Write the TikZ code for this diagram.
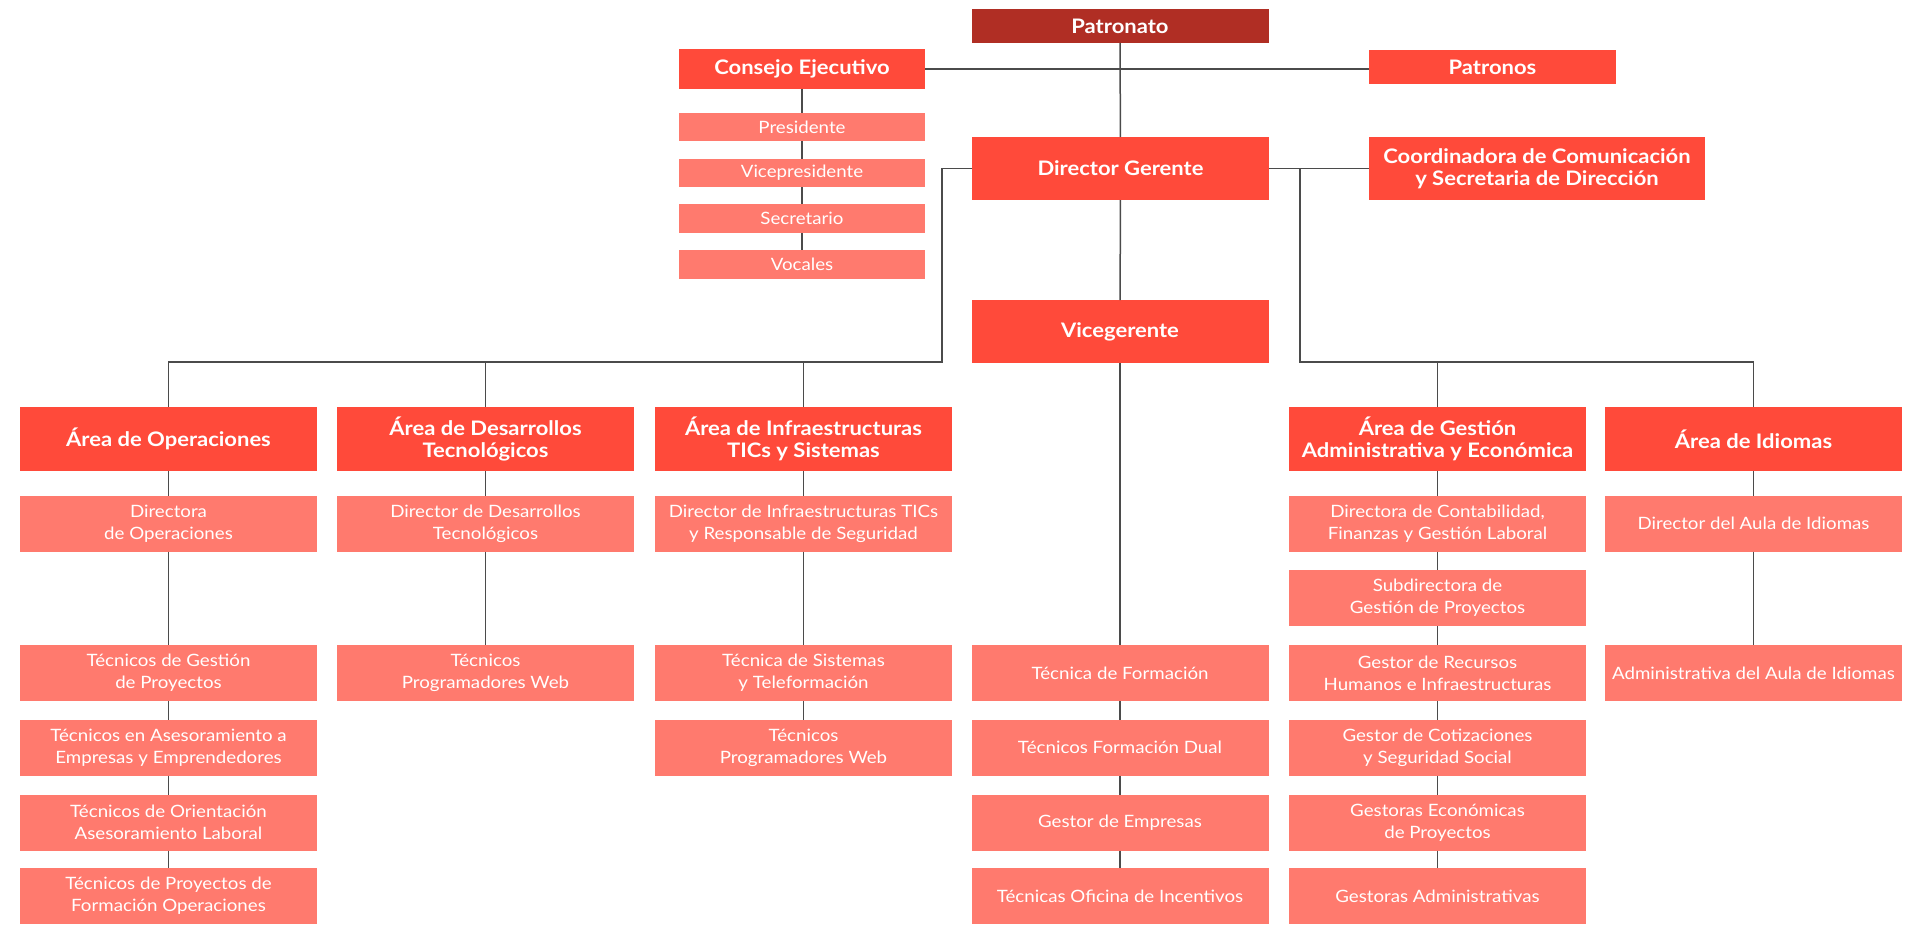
\documentclass[tikz,border=0pt]{standalone}
\usepackage{fontspec}
\setmainfont{Lato}[FakeStretch=1.1]
\begin{document}
\begin{tikzpicture}[x=1pt,y=-1pt,
  base/.style={inner sep=0pt,outer sep=0pt,text=white,align=center,anchor=center},
  topbox/.style={base,fill=toprd,font=\fontsize{20}{21.7}\selectfont\bfseries},
  mainbox/.style={base,fill=mainrd,font=\fontsize{20}{21.7}\selectfont\bfseries},
  subbox/.style={base,fill=subrd,font=\fontsize{17}{21.7}\selectfont},
  colw/.style={minimum width=297,minimum height=56},
  areaw/.style={minimum width=297,minimum height=64},
  memw/.style={minimum width=246,minimum height=28.5},
  conn/.style={draw=lnc,line width=1.5pt}]
\definecolor{toprd}{RGB}{176,46,36}
\definecolor{mainrd}{RGB}{255,74,58}
\definecolor{subrd}{RGB}{255,122,110}
\definecolor{lnc}{RGB}{75,75,75}
\useasboundingbox[fill=white] (0,0) rectangle (1920,934);

% top
\node[topbox,minimum width=297,minimum height=34] (pat) at (1120,26) {Patronato};
\node[mainbox,minimum width=246,minimum height=40] (cons) at (802,69) {Consejo Ejecutivo};
\node[mainbox,minimum width=247,minimum height=34] (patr) at (1492.5,67.5) {Patronos};
\node[subbox,memw] (pres) at (802,127) {Presidente};
\node[subbox,memw] (vice) at (802,173) {Vicepresidente};
\node[subbox,memw] (secr) at (802,218.5) {Secretario};
\node[subbox,memw] (voc) at (802,264.5) {Vocales};
\node[mainbox,minimum width=297,minimum height=63] (dg) at (1120.5,168.5) {Director Gerente};
\node[mainbox,minimum width=336,minimum height=63] (coord) at (1537,168.5) {Coordinadora de Comunicación\\y Secretaria de Dirección};
\node[mainbox,minimum width=297,minimum height=63] (vg) at (1120,331.5) {Vicegerente};

% areas
\node[mainbox,areaw] (a1) at (168.5,439) {Área de Operaciones};
\node[mainbox,areaw] (a2) at (485.5,439) {Área de Desarrollos\\Tecnológicos};
\node[mainbox,areaw] (a3) at (803.5,439) {Área de Infraestructuras\\TICs y Sistemas};
\node[mainbox,areaw] (a5) at (1437.5,439) {Área de Gestión\\Administrativa y Económica};
\node[mainbox,areaw] (a6) at (1753.5,439) {Área de Idiomas};

% column 1
\node[subbox,colw] (c1a) at (168.5,523.5) {Directora\\de Operaciones};
\node[subbox,colw] (c1b) at (168.5,673) {Técnicos de Gestión\\de Proyectos};
\node[subbox,colw] (c1c) at (168.5,747.5) {Técnicos en Asesoramiento a\\Empresas y Emprendedores};
\node[subbox,colw] (c1d) at (168.5,822.5) {Técnicos de Orientación\\Asesoramiento Laboral};
\node[subbox,colw] (c1e) at (168.5,896) {Técnicos de Proyectos de\\Formación Operaciones};
% column 2
\node[subbox,colw] (c2a) at (485.5,523.5) {Director de Desarrollos\\Tecnológicos};
\node[subbox,colw] (c2b) at (485.5,673) {Técnicos\\Programadores Web};
% column 3
\node[subbox,colw] (c3a) at (803.5,523.5) {Director de Infraestructuras TICs\\y Responsable de Seguridad};
\node[subbox,colw] (c3b) at (803.5,673) {Técnica de Sistemas\\y Teleformación};
\node[subbox,colw] (c3c) at (803.5,747.5) {Técnicos\\Programadores Web};
% column 4
\node[subbox,colw] (c4a) at (1120,673) {Técnica de Formación};
\node[subbox,colw] (c4b) at (1120,747.5) {Técnicos Formación Dual};
\node[subbox,colw] (c4c) at (1120,822.5) {Gestor de Empresas};
\node[subbox,colw] (c4d) at (1120,896) {Técnicas Oficina de Incentivos};
% column 5
\node[subbox,colw] (c5a) at (1437.5,523.5) {Directora de Contabilidad,\\Finanzas y Gestión Laboral};
\node[subbox,colw] (c5b) at (1437.5,598) {Subdirectora de\\Gestión de Proyectos};
\node[subbox,colw] (c5c) at (1437.5,673) {Gestor de Recursos\\Humanos e Infraestructuras};
\node[subbox,colw] (c5d) at (1437.5,747.5) {Gestor de Cotizaciones\\y Seguridad Social};
\node[subbox,colw] (c5e) at (1437.5,822.5) {Gestoras Económicas\\de Proyectos};
\node[subbox,colw] (c5f) at (1437.5,896) {Gestoras Administrativas};
% column 6
\node[subbox,colw] (c6a) at (1753.5,523.5) {Director del Aula de Idiomas};
\node[subbox,colw] (c6b) at (1753.5,673) {Administrativa del Aula de Idiomas};

\coordinate (lb) at (942,362);
\coordinate (rb) at (1300,362);

% connectors
\draw[conn] (pat) -- (dg);
\draw[conn] (cons.east) -- (cons.east -| patr.west);
\draw[conn] (cons) -- (pres);
\draw[conn] (pres) -- (vice);
\draw[conn] (vice) -- (secr);
\draw[conn] (secr) -- (voc);
\draw[conn] (dg) -- (vg);
\draw[conn] (dg.east) -- (coord.west);
\draw[conn] (dg.west) -| (lb) -| (a1.north);
\draw[conn] (a2.north) -- (a2.north |- lb);
\draw[conn] (a3.north) -- (a3.north |- lb);
\draw[conn] (dg.east -| rb) -- (rb) -| (a6.north);
\draw[conn] (a5.north) -- (a5.north |- rb);

\draw[conn] (a1) -- (c1a);
\draw[conn] (c1a) -- (c1b);
\draw[conn] (c1b) -- (c1c);
\draw[conn] (c1c) -- (c1d);
\draw[conn] (c1d) -- (c1e);
\draw[conn] (a2) -- (c2a);
\draw[conn] (c2a) -- (c2b);
\draw[conn] (a3) -- (c3a);
\draw[conn] (c3a) -- (c3b);
\draw[conn] (c3b) -- (c3c);
\draw[conn] (vg) -- (c4a);
\draw[conn] (c4a) -- (c4b);
\draw[conn] (c4b) -- (c4c);
\draw[conn] (c4c) -- (c4d);
\draw[conn] (a5) -- (c5a);
\draw[conn] (c5a) -- (c5b);
\draw[conn] (c5b) -- (c5c);
\draw[conn] (c5c) -- (c5d);
\draw[conn] (c5d) -- (c5e);
\draw[conn] (c5e) -- (c5f);
\draw[conn] (a6) -- (c6a);
\draw[conn] (c6a) -- (c6b);
\end{tikzpicture}
\end{document}
